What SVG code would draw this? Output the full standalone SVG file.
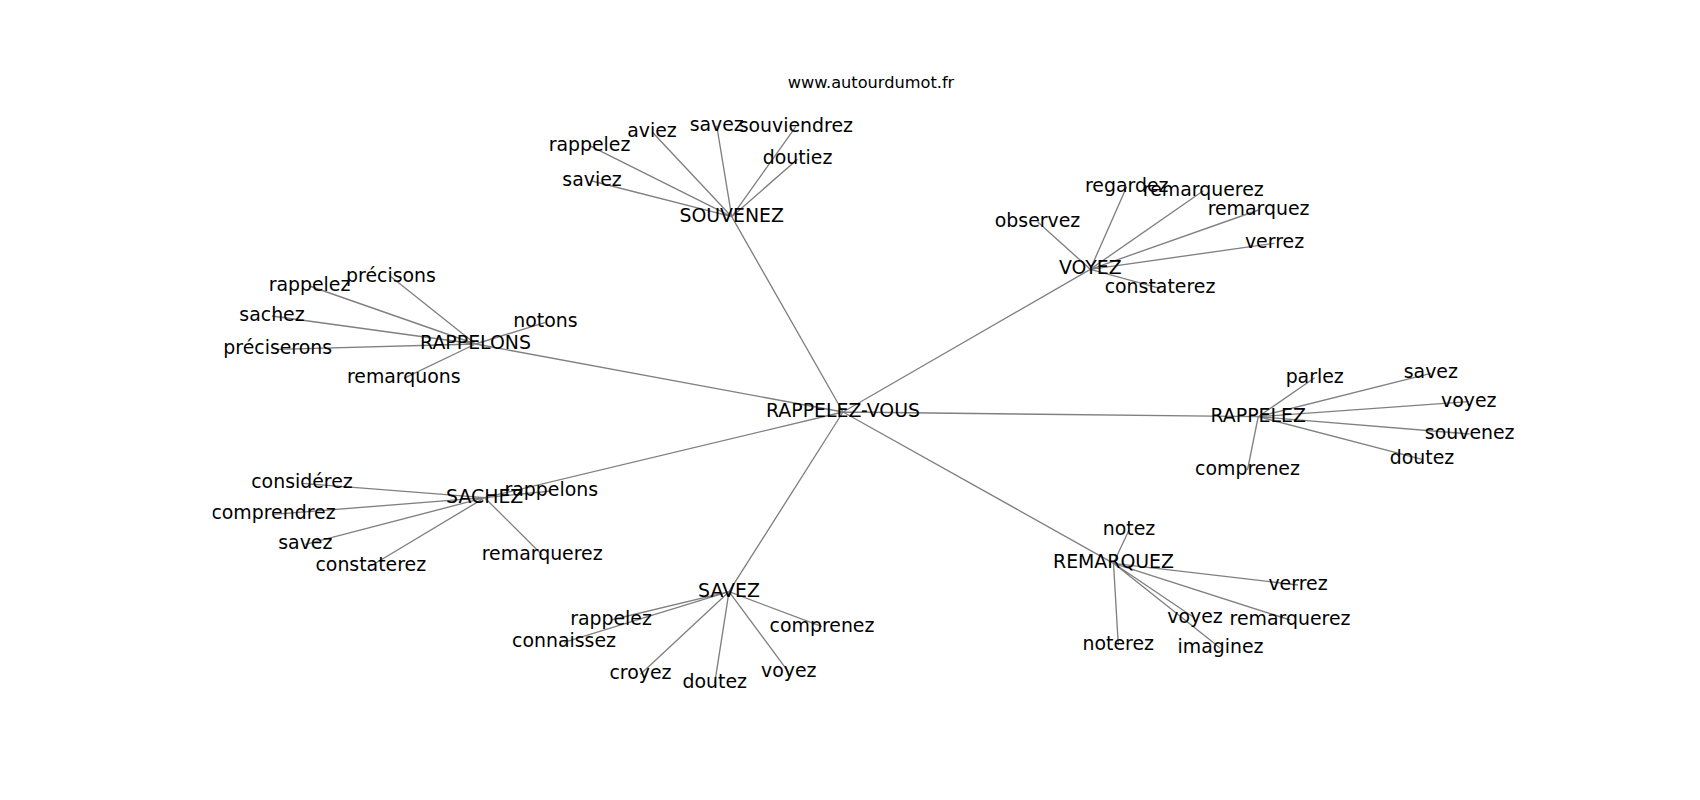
<svg xmlns="http://www.w3.org/2000/svg" width="1700" height="800" viewBox="0 0 1700 800">
<style>
.e{stroke:#808080;stroke-width:1.35;fill:none}
text{font-family:"DejaVu Sans",sans-serif;fill:#000}
.n text{font-size:18.9px;text-anchor:middle}
.t{font-size:16.2px;text-anchor:middle}
</style>
<defs><clipPath id="ax"><rect x="212.5" y="96" width="1317.5" height="616"/></clipPath></defs>
<rect width="1700" height="800" fill="#fff"/>
<text class="t" x="871" y="88">www.autourdumot.fr</text>
<g clip-path="url(#ax)">
<g id="edges">
<path class="e" d="M843,412L731.7,216.7M843,412L1090.3,269.3M843,412L475.5,344M843,412L1258.2,416.7M843,412L484.7,497.7M843,412L729,591.7M843,412L1113.5,563.3"/>
<path class="e" d="M731.7,216.7L592,181M731.7,216.7L589.5,145.7M731.7,216.7L652,131.7M731.7,216.7L716.7,125.7M731.7,216.7L795.8,126.7M731.7,216.7L797.5,159.3"/>
<path class="e" d="M1090.3,269.3L1037.5,221.7M1090.3,269.3L1126.7,186.7M1090.3,269.3L1203.3,190.7M1090.3,269.3L1258.6,210M1090.3,269.3L1274.5,243.3M1090.3,269.3L1160,288.3"/>
<path class="e" d="M475.5,344L391,276.7M475.5,344L309.5,286M475.5,344L272,316M475.5,344L277.7,349.3M475.5,344L545.5,322.3M475.5,344L403.8,378.3"/>
<path class="e" d="M1258.2,416.7L1314.7,377.7M1258.2,416.7L1430.8,373.3M1258.2,416.7L1468.8,401.7M1258.2,416.7L1469.7,434M1258.2,416.7L1422,459.3M1258.2,416.7L1247.5,470"/>
<path class="e" d="M484.7,497.7L302,483.3M484.7,497.7L273.5,514.3M484.7,497.7L305.3,544.3M484.7,497.7L370.8,566M484.7,497.7L551.3,491M484.7,497.7L542.2,555"/>
<path class="e" d="M729,591.7L611,620M729,591.7L564,642.3M729,591.7L640.5,674.3M729,591.7L714.7,683.3M729,591.7L788.8,672.3M729,591.7L822,626.7"/>
<path class="e" d="M1113.5,563.3L1129,530M1113.5,563.3L1298,585M1113.5,563.3L1290,620M1113.5,563.3L1195,618.3M1113.5,563.3L1220.5,648.3M1113.5,563.3L1118.3,645"/>
</g>
<g class="n">
<g id="rappelez-vous"><text x="843" y="417">RAPPELEZ-VOUS</text></g>
<g id="souvenez"><text x="731.7" y="221.7">SOUVENEZ</text></g>
<g id="souvenez-saviez"><text x="592" y="186">saviez</text></g>
<g id="souvenez-rappelez"><text x="589.5" y="150.7">rappelez</text></g>
<g id="souvenez-aviez"><text x="652" y="136.7">aviez</text></g>
<g id="souvenez-savez"><text x="716.7" y="130.7">savez</text></g>
<g id="souvenez-souviendrez"><text x="795.8" y="131.7">souviendrez</text></g>
<g id="souvenez-doutiez"><text x="797.5" y="164.3">doutiez</text></g>
<g id="voyez"><text x="1090.3" y="274.3">VOYEZ</text></g>
<g id="voyez-observez"><text x="1037.5" y="226.7">observez</text></g>
<g id="voyez-regardez"><text x="1126.7" y="191.7">regardez</text></g>
<g id="voyez-remarquerez"><text x="1203.3" y="195.7">remarquerez</text></g>
<g id="voyez-remarquez"><text x="1258.6" y="215">remarquez</text></g>
<g id="voyez-verrez"><text x="1274.5" y="248.3">verrez</text></g>
<g id="voyez-constaterez"><text x="1160" y="293.3">constaterez</text></g>
<g id="rappelons"><text x="475.5" y="349">RAPPELONS</text></g>
<g id="rappelons-precisons"><text x="391" y="281.7">précisons</text></g>
<g id="rappelons-rappelez"><text x="309.5" y="291">rappelez</text></g>
<g id="rappelons-sachez"><text x="272" y="321">sachez</text></g>
<g id="rappelons-preciserons"><text x="277.7" y="354.3">préciserons</text></g>
<g id="rappelons-notons"><text x="545.5" y="327.3">notons</text></g>
<g id="rappelons-remarquons"><text x="403.8" y="383.3">remarquons</text></g>
<g id="rappelez"><text x="1258.2" y="421.7">RAPPELEZ</text></g>
<g id="rappelez-parlez"><text x="1314.7" y="382.7">parlez</text></g>
<g id="rappelez-savez"><text x="1430.8" y="378.3">savez</text></g>
<g id="rappelez-voyez"><text x="1468.8" y="406.7">voyez</text></g>
<g id="rappelez-souvenez"><text x="1469.7" y="439">souvenez</text></g>
<g id="rappelez-doutez"><text x="1422" y="464.3">doutez</text></g>
<g id="rappelez-comprenez"><text x="1247.5" y="475">comprenez</text></g>
<g id="sachez"><text x="484.7" y="502.7">SACHEZ</text></g>
<g id="sachez-considerez"><text x="302" y="488.3">considérez</text></g>
<g id="sachez-comprendrez"><text x="273.5" y="519.3">comprendrez</text></g>
<g id="sachez-savez"><text x="305.3" y="549.3">savez</text></g>
<g id="sachez-constaterez"><text x="370.8" y="571">constaterez</text></g>
<g id="sachez-rappelons"><text x="551.3" y="496">rappelons</text></g>
<g id="sachez-remarquerez"><text x="542.2" y="560">remarquerez</text></g>
<g id="savez"><text x="729" y="596.7">SAVEZ</text></g>
<g id="savez-rappelez"><text x="611" y="625">rappelez</text></g>
<g id="savez-connaissez"><text x="564" y="647.3">connaissez</text></g>
<g id="savez-croyez"><text x="640.5" y="679.3">croyez</text></g>
<g id="savez-doutez"><text x="714.7" y="688.3">doutez</text></g>
<g id="savez-voyez"><text x="788.8" y="677.3">voyez</text></g>
<g id="savez-comprenez"><text x="822" y="631.7">comprenez</text></g>
<g id="remarquez"><text x="1113.5" y="568.3">REMARQUEZ</text></g>
<g id="remarquez-notez"><text x="1129" y="535">notez</text></g>
<g id="remarquez-verrez"><text x="1298" y="590">verrez</text></g>
<g id="remarquez-remarquerez"><text x="1290" y="625">remarquerez</text></g>
<g id="remarquez-voyez"><text x="1195" y="623.3">voyez</text></g>
<g id="remarquez-imaginez"><text x="1220.5" y="653.3">imaginez</text></g>
<g id="remarquez-noterez"><text x="1118.3" y="650">noterez</text></g>
</g>
</g>
</svg>
